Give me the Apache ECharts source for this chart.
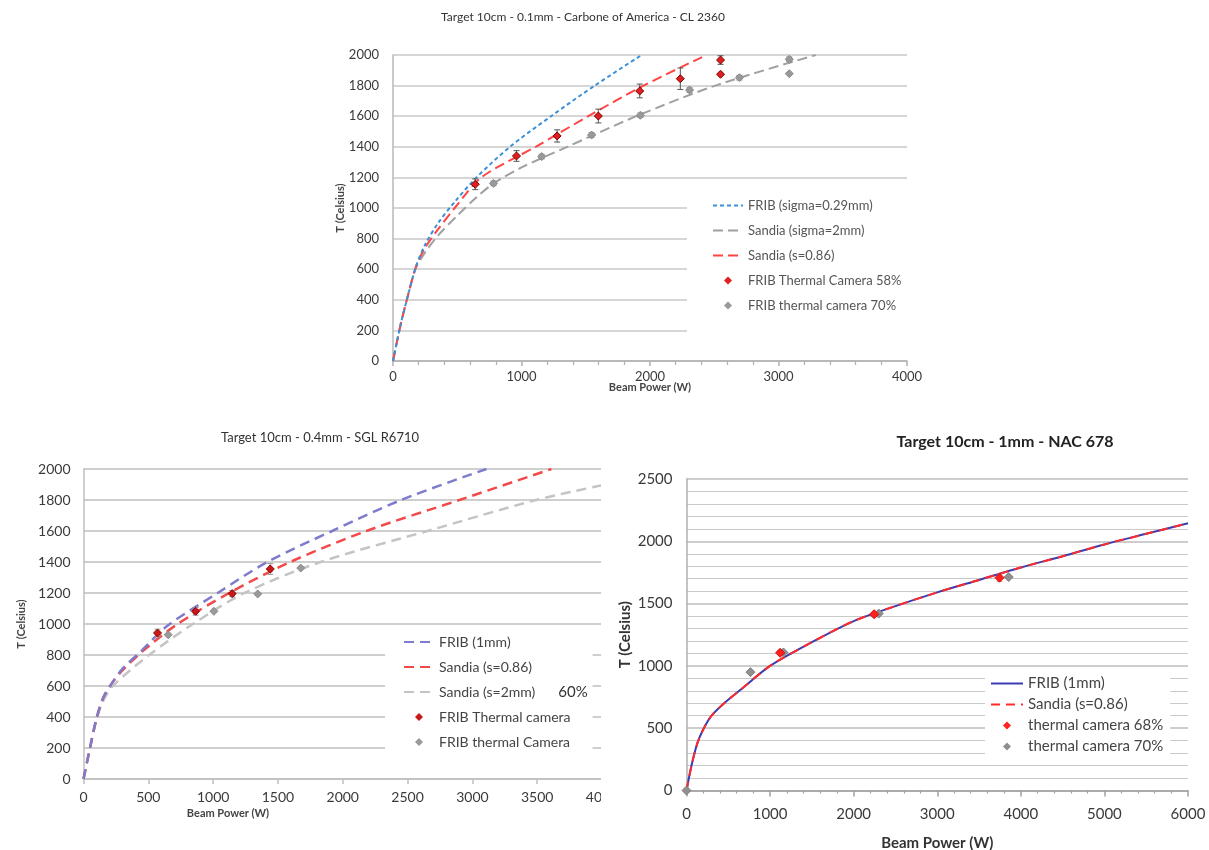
<!DOCTYPE html>
<html><head><meta charset="utf-8">
<script src="https://cdn.jsdelivr.net/npm/echarts@6/dist/echarts.min.js"></script>
<style>
html,body{margin:0;padding:0;background:#fff;width:1209px;height:850px;overflow:hidden}
.c{position:absolute;overflow:hidden}
</style></head><body>
<div id="c1" class="c" style="left:0;top:0;width:1209px;height:420px"></div>
<div id="c2" class="c" style="left:0;top:420px;width:601px;height:430px"></div>
<div id="c3" class="c" style="left:601px;top:420px;width:608px;height:430px"></div>
<script>
// ---------- Chart 1 data: Target 10cm - 0.1mm ----------
var c1Title = 'Target 10cm - 0.1mm - Carbone of America - CL 2360';
var c1FribSigma029 = [[0,0],[60,240],[120,440],[180,620],[250,760],[350,900],[480,1040],[650,1200],[910,1400],[1230,1600],[1570,1800],[1935,2000]];
var c1SandiaSigma2 = [[0,0],[60,240],[120,440],[180,610],[250,710],[350,820],[500,950],[650,1070],[782,1160],[1000,1265],[1357,1400],[1893,1600],[2509,1800],[3290,2000]];
var c1SandiaS086 = [[0,0],[60,240],[120,440],[180,620],[250,740],[350,860],[480,1000],[688,1200],[1110,1400],[1520,1600],[1950,1800],[2440,2000]];
var c1Cam58 = [[640,1155],[961,1340],[1277,1471],[1598,1601],[1920,1765],[2236,1845],[2549,1967],[2549,1874]];
var c1Cam58Err = [35,35,40,45,45,70,28,0];
var c1Cam70 = [[782,1161],[1157,1336],[1545,1477],[1925,1606],[2308,1771],[2696,1852],[3084,1972],[3084,1878]];
var c1Cam70Err = [15,15,15,15,15,15,15,0];
var c1Names = ['FRIB (sigma=0.29mm)','Sandia (sigma=2mm)','Sandia (s=0.86)','FRIB Thermal Camera 58%','FRIB thermal camera 70%'];

// ---------- Chart 2 data: Target 10cm - 0.4mm ----------
var c2Title = 'Target 10cm - 0.4mm - SGL R6710';
var c2Frib1mm = [[0,0],[50,200],[100,390],[150,520],[212,609],[300,710],[450,830],[650,990],[1035,1200],[1418,1400],[1918,1600],[2450,1800],[3109,2000]];
var c2SandiaS086 = [[0,0],[50,200],[100,390],[150,520],[212,609],[300,700],[450,820],[726,1000],[1124,1200],[1594,1400],[2182,1600],[2900,1800],[3610,2000]];
var c2SandiaS2 = [[0,0],[50,200],[100,380],[150,500],[226,600],[506,800],[844,1000],[1241,1200],[1829,1400],[2653,1600],[3491,1800],[4000,1895]];
var c2CamRed = [[571,942],[865,1082],[1147,1196],[1441,1355]];
var c2CamRedErr = [25,25,20,35];
var c2CamGray = [[653,931],[1006,1082],[1344,1194],[1676,1361]];
var c2Names = ['FRIB (1mm)','Sandia (s=0.86)','Sandia (s=2mm)','FRIB Thermal camera','FRIB thermal Camera'];
var c2Note = '60%';

// ---------- Chart 3 data: Target 10cm - 1mm ----------
var c3Title = 'Target 10cm - 1mm - NAC 678';
var c3Curve = [[0,0],[60,200],[130,380],[200,490],[300,600],[450,700],[650,810],[1000,1000],[1500,1190],[2000,1360],[2500,1480],[3000,1590],[3500,1690],[4000,1790],[4500,1880],[5000,1975],[5500,2060],[6000,2145]];
var c3Cam68 = [[1120,1105],[2245,1415],[3745,1708]];
var c3Cam68Err = [15,15,30];
var c3Cam70 = [[0,0],[765,950],[1160,1108],[2300,1420],[3855,1713]];
var c3Names = ['FRIB (1mm)','Sandia (s=0.86)','thermal camera 68%','thermal camera 70%'];

var FONT = 'Lato';
var DIAMOND_ICON = 'path://M5,0L10,5L5,10L0,5Z';
function plain(v){ return String(v); }

function errData(pts, errs){
  return pts.map(function(p,i){ return [p[0], p[1]-errs[i], p[1]+errs[i]]; });
}
function errSeries(pts, errs, color){
  return {
    type:'custom', silent:true, z:3,
    encode:{x:0, y:[1,2]},
    data: errData(pts, errs),
    renderItem: function(params, api){
      var x = api.value(0), lo = api.value(1), hi = api.value(2);
      if (hi - lo <= 0) return null;
      var a = api.coord([x, lo]), b = api.coord([x, hi]);
      var st = {stroke:color, lineWidth:1};
      return {type:'group', children:[
        {type:'line', shape:{x1:a[0],y1:a[1],x2:b[0],y2:b[1]}, style:st},
        {type:'line', shape:{x1:a[0]-3,y1:a[1],x2:a[0]+3,y2:a[1]}, style:st},
        {type:'line', shape:{x1:b[0]-3,y1:b[1],x2:b[0]+3,y2:b[1]}, style:st}
      ]};
    }
  };
}
function lineS(name, data, color, width, dash, z){
  return {name:name, type:'line', data:data, smooth:0.3, symbol:'none', showSymbol:false,
    lineStyle:{color:color, width:width, type:dash}, itemStyle:{color:color}, z:z||2, clip:true};
}
function scatS(name, data, color, border, size, z){
  return {name:name, type:'scatter', data:data, symbol:'diamond', symbolSize:size,
    itemStyle:{color:color, borderColor:border, borderWidth:1, opacity:1}, z:z||4};
}
function gtext(x, y, text, size, weight, color){
  return {type:'text', x:x, y:y, z:100, silent:true,
    style:{text:text, align:'center', verticalAlign:'middle', fontFamily:FONT, fontSize:size, fontWeight:weight||'normal', fill:color||'#333'}};
}
// legend entries: lines without the symbol dot, scatter as small diamonds
function legItems(names, isLine){
  return names.map(function(n, i){
    return isLine[i] ? {name:n, itemStyle:{opacity:0}} : {name:n, icon:DIAMOND_ICON, itemStyle:{borderWidth:0}};
  });
}

// ---------------- Chart 1 ----------------
var ch1 = echarts.init(document.getElementById('c1'), null, {renderer:'canvas'});
ch1.setOption({
  animation:false,
  backgroundColor:'#fff',
  graphic:[gtext(583, 17, c1Title, 12, 'normal', '#333')],
  grid:{left:393, top:55, width:514, height:306, containLabel:false, outerBoundsMode:'none'},
  xAxis:{type:'value', min:0, max:4000, interval:1000,
    name:'Beam Power (W)', nameLocation:'middle', nameGap:21, nameMoveOverlap:false,
    nameTextStyle:{fontFamily:FONT, fontSize:11, fontWeight:'bold', color:'#444'},
    axisLine:{show:true, onZero:false, lineStyle:{color:'#b0b0b0', width:1.5}},
    axisTick:{show:true, length:5, lineStyle:{color:'#b0b0b0', width:1.5}},
    minorTick:{show:true, splitNumber:5, length:4, lineStyle:{color:'#b0b0b0', width:1.2}},
    axisLabel:{fontFamily:FONT, fontSize:13, color:'#3a3a3a', margin:9, formatter:plain},
    splitLine:{show:false}},
  yAxis:{type:'value', min:0, max:2000, interval:200,
    name:'T (Celsius)', nameLocation:'middle', nameGap:47, nameRotate:90, nameMoveOverlap:false,
    nameTextStyle:{fontFamily:FONT, fontSize:11, fontWeight:'bold', color:'#444'},
    axisLine:{show:true, lineStyle:{color:'#b8b8b8', width:1.5}},
    axisTick:{show:false},
    axisLabel:{fontFamily:FONT, fontSize:13, color:'#3a3a3a', margin:14, formatter:plain},
    splitLine:{show:true, lineStyle:{color:'#c8c8c8', width:1.6}}},
  legend:{orient:'vertical', left:687, top:190, padding:[8,10,28,25], backgroundColor:'#fff',
    itemWidth:30, itemHeight:8, itemGap:10, selectedMode:false, z:10, symbolKeepAspect:true,
    textStyle:{fontFamily:FONT, fontSize:13, color:'#555', lineHeight:15},
    data:legItems(c1Names, [true,true,true,false,false])},
  series:[
    lineS(c1Names[1], c1SandiaSigma2, '#a0a0a0', 2, [10,5], 2),
    lineS(c1Names[2], c1SandiaS086, '#ff4444', 2, [10,5], 2),
    lineS(c1Names[0], c1FribSigma029, '#3d90d8', 2, [4,3], 2),
    errSeries(c1Cam70, c1Cam70Err, '#888'),
    errSeries(c1Cam58, c1Cam58Err, '#555'),
    scatS(c1Names[4], c1Cam70, '#999999', '#8a8a8a', 8, 4),
    scatS(c1Names[3], c1Cam58, '#e02020', '#7a0000', 8, 5)
  ]
});

// ---------------- Chart 2 ----------------
var ch2 = echarts.init(document.getElementById('c2'), null, {renderer:'canvas'});
ch2.setOption({
  animation:false,
  backgroundColor:'#fff',
  graphic:[
    gtext(320, 18, c2Title, 13, 'normal', '#333'),
    gtext(228, 393, 'Beam Power (W)', 11, 'bold', '#444'),
    gtext(573, 272, c2Note, 15, 'normal', '#333')
  ],
  grid:{left:83.5, top:49, width:518.5, height:310, containLabel:false, outerBoundsMode:'none'},
  xAxis:{type:'value', min:0, max:4000, interval:500,
    axisLine:{show:true, onZero:false, lineStyle:{color:'#c0c0c0', width:1.5}},
    axisTick:{show:true, length:5, lineStyle:{color:'#c0c0c0', width:1.5}},
    axisLabel:{fontFamily:FONT, fontSize:14, color:'#3a3a3a', margin:11, showMaxLabel:true, formatter:plain},
    splitLine:{show:false}},
  yAxis:{type:'value', min:0, max:2000, interval:200,
    name:'T (Celsius)', nameLocation:'middle', nameGap:57, nameRotate:90, nameMoveOverlap:false,
    nameTextStyle:{fontFamily:FONT, fontSize:11, fontWeight:'bold', color:'#444'},
    axisLine:{show:true, lineStyle:{color:'#c0c0c0', width:1.5}},
    axisTick:{show:false},
    axisLabel:{fontFamily:FONT, fontSize:14, color:'#3a3a3a', margin:13, formatter:plain},
    splitLine:{show:true, lineStyle:{color:'#cfcfcf', width:2}}},
  legend:{orient:'vertical', left:385, top:210, padding:[4,22,12,18], backgroundColor:'#fff',
    itemWidth:30, itemHeight:8, itemGap:9, selectedMode:false, z:10, symbolKeepAspect:true,
    textStyle:{fontFamily:FONT, fontSize:14, color:'#444', lineHeight:16},
    data:legItems(c2Names, [true,true,true,false,false])},
  series:[
    lineS(c2Names[2], c2SandiaS2, '#c4c4c4', 2.5, [10,6], 2),
    lineS(c2Names[1], c2SandiaS086, '#f24a4a', 2.5, [10,6], 2),
    lineS(c2Names[0], c2Frib1mm, '#7f7bcc', 2.5, [10,6], 2),
    errSeries(c2CamRed, c2CamRedErr, '#999'),
    scatS(c2Names[4], c2CamGray, '#9a9a9a', '#8a8a8a', 8, 4),
    scatS(c2Names[3], c2CamRed, '#c81818', '#8a0000', 8, 5)
  ]
});

// ---------------- Chart 3 ----------------
var ch3 = echarts.init(document.getElementById('c3'), null, {renderer:'canvas'});
ch3.setOption({
  animation:false,
  backgroundColor:'#fff',
  graphic:[gtext(404, 22, c3Title, 16, 'bold', '#222')],
  grid:{left:85.5, top:59, width:501.5, height:311.5, containLabel:false, outerBoundsMode:'none'},
  xAxis:{type:'value', min:0, max:6000, interval:1000,
    name:'Beam Power (W)', nameLocation:'middle', nameGap:45, nameMoveOverlap:false,
    nameTextStyle:{fontFamily:FONT, fontSize:15, fontWeight:'bold', color:'#333'},
    axisLine:{show:true, onZero:false, lineStyle:{color:'#a0a0a0', width:1.5}},
    axisTick:{show:true, length:6, lineStyle:{color:'#a0a0a0', width:1.5}},
    minorTick:{show:true, splitNumber:5, length:3, lineStyle:{color:'#a0a0a0', width:1.2}},
    axisLabel:{fontFamily:FONT, fontSize:15, color:'#3a3a3a', margin:16, formatter:plain},
    splitLine:{show:false}},
  yAxis:{type:'value', min:0, max:2500, interval:500,
    name:'T (Celsius)', nameLocation:'middle', nameGap:54, nameRotate:90, nameMoveOverlap:false,
    nameTextStyle:{fontFamily:FONT, fontSize:15, fontWeight:'bold', color:'#333'},
    axisLine:{show:true, lineStyle:{color:'#b0b0b0', width:1.5}},
    axisTick:{show:false},
    minorTick:{show:false, splitNumber:5},
    minorSplitLine:{show:true, lineStyle:{color:'#c9c9c9', width:1.2}},
    axisLabel:{fontFamily:FONT, fontSize:15, color:'#3a3a3a', margin:14, formatter:plain},
    splitLine:{show:true, lineStyle:{color:'#bcbcbc', width:1.6}}},
  legend:{orient:'vertical', left:384, top:252, padding:[3,7,4,5], backgroundColor:'#fff',
    itemWidth:32, itemHeight:8, itemGap:4, selectedMode:false, z:10, symbolKeepAspect:true,
    textStyle:{fontFamily:FONT, fontSize:15, color:'#444', lineHeight:17},
    data:legItems(c3Names, [true,true,false,false])},
  series:[
    lineS(c3Names[0], c3Curve, '#3b3bb3', 2, 'solid', 2),
    lineS(c3Names[1], c3Curve, '#ff2a2a', 2, [9,6], 3),
    errSeries(c3Cam68, c3Cam68Err, '#aaa'),
    scatS(c3Names[3], c3Cam70, '#8f8f8f', '#808080', 9, 4),
    scatS(c3Names[2], c3Cam68, '#ff2020', '#e00000', 9, 5)
  ]
});
</script>
</body></html>
